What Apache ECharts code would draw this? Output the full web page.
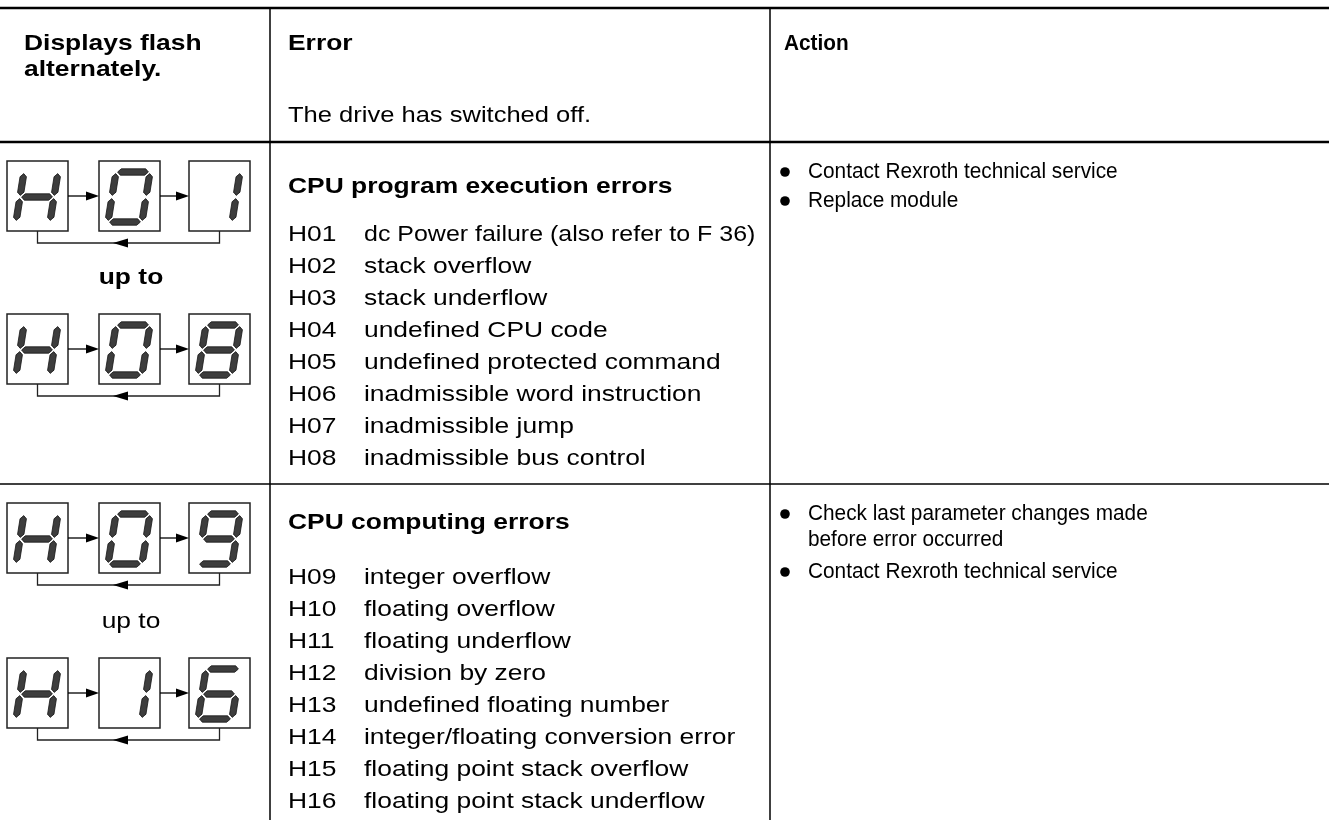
<!DOCTYPE html>
<html>
<head>
<meta charset="utf-8">
<script src="https://cdn.jsdelivr.net/npm/echarts@6/dist/echarts.min.js"></script>
<style>
html,body{margin:0;padding:0;background:#fff;}
#c{width:1329px;height:820px;}
</style>
</head>
<body>
<div id="c"></div>
<script>
// ---- data ----
const headerTitles = ['Displays flash', 'alternately.'];
const headerError = 'Error';
const headerErrorNote = 'The drive has switched off.';
const headerAction = 'Action';

const groupTitles = ['CPU program execution errors', 'CPU computing errors'];

const codes1 = ['H01','H02','H03','H04','H05','H06','H07','H08'];
const descs1 = ['dc Power failure (also refer to F 36)','stack overflow','stack underflow','undefined CPU code','undefined protected command','inadmissible word instruction','inadmissible jump','inadmissible bus control'];

const codes2 = ['H09','H10','H11','H12','H13','H14','H15','H16'];
const descs2 = ['integer overflow','floating overflow','floating underflow','division by zero','undefined floating number','integer/floating conversion error','floating point stack overflow','floating point stack underflow'];

const actions1 = [['Contact Rexroth technical service'], ['Replace module']];
const actions2 = [['Check last parameter changes made', 'before error occurred'], ['Contact Rexroth technical service']];

const displays1 = [['H','0','1'], ['H','0','8']];
const displays2 = [['H','0','9'], ['H','1','6']];
const upToLabel = 'up to';

// ---- drawing ----
const FONT = '"Liberation Sans", Arial, Helvetica, sans-serif';
const FS = 22;
const WIDE = 1.2, NARROW = 0.945;
const els = [];
function line(x1,y1,x2,y2,w){els.push({type:'line',shape:{x1,y1,x2,y2},style:{stroke:'#000',lineWidth:w}});}
function text(t,x,y,bold,size,align,sx){els.push({type:'text',x,y,scaleX:sx||1,style:{text:t,fill:'#000',font:(bold?'bold ':'')+(size||FS)+'px '+FONT,textAlign:align||'left',textVerticalAlign:'middle'}});}

// table rules
line(0,8,1329,8,2.5);
line(0,142,1329,142,2.5);
line(0,484,1329,484,1.5);
line(270,8,270,820,1.5);
line(770,8,770,820,1.5);

// header
text(headerTitles[0],24,44,true,FS,'left',WIDE);
text(headerTitles[1],24,70,true,FS,'left',WIDE);
text(headerError,288,44,true,FS,'left',WIDE);
text(headerErrorNote,288,116,false,FS,'left',1.16);
text(headerAction,784,44,true,FS,'left',NARROW);

// error groups
function group(title,codes,descs,yTitle,yFirst){
  text(title,288,yTitle,true,FS,'left',WIDE);
  codes.forEach((c,i)=>{
    text(c,288,yFirst+32*i,false,FS,'left',WIDE);
    // the longest line is set a little tighter so it fits its column
    text(descs[i],364,yFirst+32*i,false,FS,'left',descs[i].length>34?1.135:WIDE);
  });
}
group(groupTitles[0],codes1,descs1,187,235);
group(groupTitles[1],codes2,descs2,523,578);

// actions
function actions(list,ys){
  let k=0;
  list.forEach((item)=>{
    els.push({type:'circle',shape:{cx:785,cy:ys[k],r:4.8},style:{fill:'#000'}});
    item.forEach((ln)=>{text(ln,808,ys[k],false,FS,'left',NARROW);k++;});
  });
}
actions(actions1,[172,201]);
actions(actions2,[514,540,572]);

// seven segment displays
const SEGS = {
  'H':['b','c','e','f','g'],
  '0':['a','b','c','d','e','f'],
  '1':['b','c'],
  '6':['a','c','d','e','f','g'],
  '8':['a','b','c','d','e','f','g'],
  '9':['a','b','c','d','f','g']
};
const W=34, HH=50, g=1.6, h=3.2;
function hSeg(v0){return [[g,v0],[g+h,v0-h],[W-g-h,v0-h],[W-g,v0],[W-g-h,v0+h],[g+h,v0+h]];}
function vSeg(u0,a,b){return [[u0,a+g],[u0+h,a+g+h],[u0+h,b-g-h],[u0,b-g],[u0-h,b-g-h],[u0-h,a+g+h]];}
const segShapes = {
  a:hSeg(0), g:hSeg(25), d:hSeg(50),
  f:vSeg(0,0,25), e:vSeg(0,25,50),
  b:vSeg(W,0,25), c:vSeg(W,25,50)
};
function digit(ch,bx,by){
  (SEGS[ch]||[]).forEach(s=>{
    const pts = segShapes[s].map(([u,v])=>[bx+9+u+(HH-v)*0.16, by+11+v]);
    els.push({type:'polygon',shape:{points:pts},style:{fill:'#3d3d3d',stroke:'#151515',lineWidth:0.8}});
  });
}
const boxX=[7,99,189], BW=61, BH=70;
function display(chars,top){
  chars.forEach((ch,i)=>{
    els.push({type:'rect',shape:{x:boxX[i],y:top,width:BW,height:BH},style:{fill:'#fff',stroke:'#222',lineWidth:1.5}});
    digit(ch,boxX[i],top);
  });
  const cy=top+BH/2;
  for(let i=0;i<2;i++){
    const x1=boxX[i]+BW, x2=boxX[i+1];
    line(x1,cy,x2-10,cy,1.3);
    els.push({type:'polygon',shape:{points:[[x2,cy],[x2-13,cy-4.5],[x2-13,cy+4.5]]},style:{fill:'#000'}});
  }
  const c1=boxX[0]+BW/2, c3=boxX[2]+BW/2, yb=top+BH+12;
  els.push({type:'polyline',shape:{points:[[c1,top+BH],[c1,yb],[c3,yb],[c3,top+BH]]},style:{stroke:'#222',lineWidth:1.3,fill:null}});
  els.push({type:'polygon',shape:{points:[[113,yb],[128,yb-4.5],[128,yb+4.5]]},style:{fill:'#000'}});
}
display(displays1[0],161);
text(upToLabel,131,278,true,FS,'center',WIDE);
display(displays1[1],314);
display(displays2[0],503);
text(upToLabel,131,622,false,FS,'center',WIDE);
display(displays2[1],658);

const chart = echarts.init(document.getElementById('c'),null,{renderer:'canvas'});
chart.setOption({animation:false,backgroundColor:'#fff',graphic:{elements:els}});
</script>
</body>
</html>
